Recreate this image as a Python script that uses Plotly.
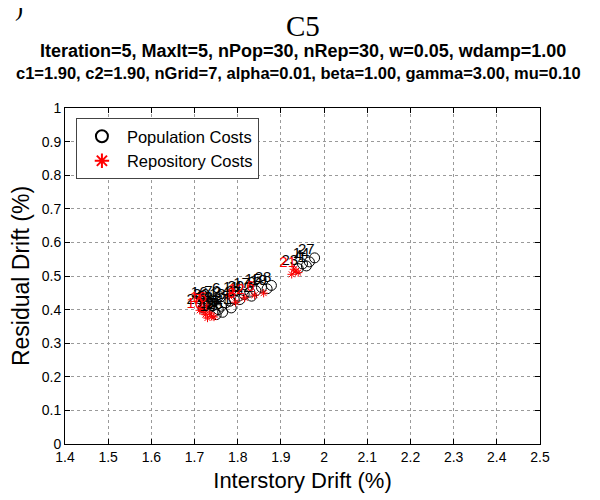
import plotly.graph_objects as go

# Population costs (black circles)
pop_x = [1.978, 1.966, 1.959, 1.950, 1.940,
         1.878, 1.868, 1.855, 1.842, 1.828, 1.815, 1.802, 1.792, 1.782, 1.772,
         1.762, 1.755, 1.746, 1.740, 1.735, 1.730, 1.725, 1.720, 1.750, 1.765,
         1.785, 1.805, 1.832, 1.760, 1.742]
pop_y = [0.554, 0.542, 0.530, 0.536, 0.522,
         0.472, 0.462, 0.466, 0.456, 0.452, 0.445, 0.440, 0.430, 0.425, 0.420,
         0.410, 0.400, 0.395, 0.410, 0.420, 0.425, 0.415, 0.405, 0.385, 0.392,
         0.405, 0.430, 0.440, 0.438, 0.428]
pop_labels = ["27", "14", "1", "4", "23",
              "28", "19", "15", "9", "17", "20", "11", "3", "24", "13",
              "22", "5", "29", "18", "30", "16", "2", "25", "10", "26",
              "21", "8", "12", "6", "7"]

# Repository costs (red asterisks)
rep_x = [1.940, 1.935, 1.925, 1.930, 1.860, 1.839, 1.816, 1.795, 1.780,
         1.740, 1.730, 1.725, 1.720, 1.715, 1.735, 1.745, 1.728, 1.712]
rep_y = [0.510, 0.515, 0.505, 0.520, 0.449, 0.443, 0.435, 0.422, 0.440,
         0.380, 0.375, 0.385, 0.395, 0.405, 0.390, 0.378, 0.410, 0.398]
rep_labels = ["", "21", "", "", "", "6", "12", "8", "",
              "", "", "", "10", "7", "", "", "16", ""]

x_ticks = [1.4, 1.5, 1.6, 1.7, 1.8, 1.9, 2.0, 2.1, 2.2, 2.3, 2.4, 2.5]
x_ticktext = ["1.4", "1.5", "1.6", "1.7", "1.8", "1.9", "2", "2.1", "2.2", "2.3", "2.4", "2.5"]
y_ticks = [0, 0.1, 0.2, 0.3, 0.4, 0.5, 0.6, 0.7, 0.8, 0.9, 1.0]
y_ticktext = ["0", "0.1", "0.2", "0.3", "0.4", "0.5", "0.6", "0.7", "0.8", "0.9", "1"]

title_main = "C5"
subtitle1 = "Iteration=5, MaxIt=5, nPop=30, nRep=30, w=0.05, wdamp=1.00"
subtitle2 = "c1=1.90, c2=1.90, nGrid=7, alpha=0.01, beta=1.00, gamma=3.00, mu=0.10"

SANS = "Liberation Sans, Arial"
SERIF = "Liberation Serif, Times New Roman"

fig = go.Figure()
fig.add_trace(go.Scatter(
    x=pop_x, y=pop_y, mode="markers", name="Population Costs",
    marker=dict(symbol="circle-open", size=10, color="black", line=dict(width=1)),
))
fig.add_trace(go.Scatter(
    x=rep_x, y=rep_y, mode="markers", name="Repository Costs",
    marker=dict(symbol="asterisk-open", size=7, color="red", line=dict(width=1, color="red")),
))
fig.add_trace(go.Scatter(
    x=pop_x, y=pop_y, mode="text", text=pop_labels, textposition="top left",
    textfont=dict(family=SANS, size=15, color="black"),
    showlegend=False, hoverinfo="skip",
))
fig.add_trace(go.Scatter(
    x=rep_x, y=rep_y, mode="text", text=rep_labels, textposition="top left",
    textfont=dict(family=SANS, size=15, color="red"),
    showlegend=False, hoverinfo="skip",
))

axis_common = dict(
    showline=True, linecolor="black", linewidth=1, mirror="ticks",
    ticks="inside", ticklen=5, tickcolor="black",
    showgrid=True, gridcolor="#9a9a9a", griddash="dot", gridwidth=1,
    zeroline=False,
    tickfont=dict(family=SANS, size=14, color="black"),
)

fig.update_layout(
    width=600, height=500,
    paper_bgcolor="white", plot_bgcolor="white",
    margin=dict(l=54, r=68, t=100, b=64),
    xaxis=dict(range=[1.4, 2.5], tickvals=x_ticks, ticktext=x_ticktext,
               title=dict(text="Interstory Drift (%)", standoff=8,
                          font=dict(family=SANS, size=22, color="black")),
               **axis_common),
    yaxis=dict(range=[0, 1], tickvals=y_ticks, ticktext=y_ticktext,
               title=dict(text="Residual Drift (%)", standoff=6,
                          font=dict(family=SANS, size=23, color="black")),
               **axis_common),
    legend=dict(x=0.023, y=0.97, xanchor="left", yanchor="top",
                bordercolor="#444", borderwidth=1, bgcolor="white",
                font=dict(family=SANS, size=16.5, color="black"),
                tracegroupgap=0, itemwidth=40, itemsizing="constant"),
    showlegend=True,
)

fig.add_annotation(text=title_main, xref="paper", yref="paper", x=0.5, y=1.0,
                   yshift=82, showarrow=False, xanchor="center", yanchor="middle",
                   font=dict(family=SERIF, size=29, color="black"))
fig.add_annotation(text="<b>" + subtitle1 + "</b>", xref="paper", yref="paper", x=0.5, y=1.0,
                   yshift=57, showarrow=False, xanchor="center", yanchor="middle",
                   font=dict(family=SANS, size=18, color="black"))
fig.add_annotation(text="<b>" + subtitle2 + "</b>", xref="paper", yref="paper", x=0.5, y=1.0,
                   xshift=-4, yshift=35, showarrow=False, xanchor="center", yanchor="middle",
                   font=dict(family=SANS, size=16.5, color="black"))
fig.add_annotation(text=")", xref="paper", yref="paper", x=0.0, y=1.0,
                   xshift=-46, yshift=100, showarrow=False, xanchor="center", yanchor="middle",
                   font=dict(family=SERIF, size=24, color="black"))

fig.write_html("out.html")
